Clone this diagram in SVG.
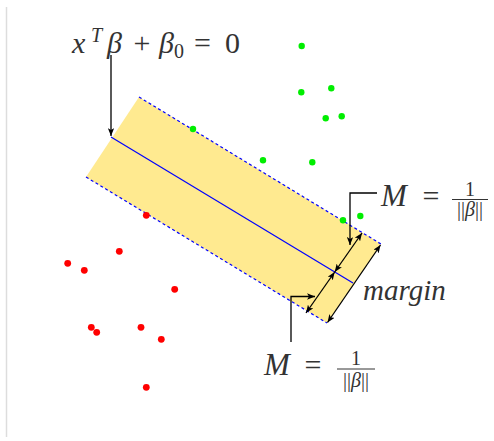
<svg xmlns="http://www.w3.org/2000/svg" width="494" height="441" viewBox="0 0 494 441">
<style>
.t{font-family:"Liberation Serif","DejaVu Serif",serif;fill:#333;font-size:30px}
.i{font-style:italic}
.s{font-size:20px}
.dash{stroke:#0000ff;stroke-width:1.2;stroke-dasharray:3 2.6;fill:none}
.ln{stroke:#000;stroke-width:1.3;fill:none}
.g{fill:#00ee00}
.r{fill:#ff0000}
</style>
<defs>
<marker id="ah" viewBox="0 0 10 8" refX="10" refY="4" markerWidth="8" markerHeight="6.4" markerUnits="userSpaceOnUse" orient="auto-start-reverse">
<path d="M0,0 L10,4 L0,8 L2.5,4 Z" fill="#000"/>
</marker>
</defs>
<line x1="6.5" y1="7" x2="6.5" y2="437" stroke="#dddddd" stroke-width="1.5"/>
<g id="band">
<polygon points="139,97 381,244 327,323 86,177" fill="#ffea90"/>
<line class="dash" x1="139" y1="97" x2="381" y2="244"/>
<line class="dash" x1="86" y1="177" x2="327" y2="323"/>
<line x1="111" y1="137" x2="353" y2="283" stroke="#0000ff" stroke-width="1.2"/>
</g>
<g id="points">
<circle class="g" cx="301.7" cy="46" r="3.2"/>
<circle class="g" cx="301.3" cy="92.3" r="3.2"/>
<circle class="g" cx="331.3" cy="88.3" r="3.2"/>
<circle class="g" cx="325.7" cy="118.3" r="3.2"/>
<circle class="g" cx="341.7" cy="116.3" r="3.2"/>
<circle class="g" cx="193" cy="129" r="3.2"/>
<circle class="g" cx="263" cy="160.3" r="3.2"/>
<circle class="g" cx="312.3" cy="162.3" r="3.2"/>
<circle class="g" cx="343" cy="220.3" r="3.2"/>
<circle class="g" cx="360.3" cy="216" r="3.2"/>
<circle class="r" cx="146.3" cy="215.3" r="3.4"/>
<circle class="r" cx="119.3" cy="251.3" r="3.4"/>
<circle class="r" cx="67.7" cy="263.3" r="3.4"/>
<circle class="r" cx="84.3" cy="270.3" r="3.4"/>
<circle class="r" cx="174.7" cy="289.3" r="3.4"/>
<circle class="r" cx="91.3" cy="327.3" r="3.4"/>
<circle class="r" cx="96.7" cy="332.3" r="3.4"/>
<circle class="r" cx="141" cy="327.3" r="3.4"/>
<circle class="r" cx="161.3" cy="339.3" r="3.4"/>
<circle class="r" cx="146.3" cy="387.3" r="3.4"/>
</g>
<g id="connectors">
<line class="ln" x1="111" y1="55" x2="111" y2="136" marker-end="url(#ah)"/>
<polyline class="ln" points="377,193 350,193 350,245" marker-end="url(#ah)"/>
<polyline class="ln" points="291,342 291,296.5 315,296.5" marker-end="url(#ah)"/>
<line class="ln" x1="334.7" y1="272" x2="362" y2="233" marker-start="url(#ah)" marker-end="url(#ah)"/>
<line class="ln" x1="334.7" y1="272" x2="306" y2="313" marker-start="url(#ah)" marker-end="url(#ah)"/>
<line class="ln" x1="380.5" y1="245" x2="327.5" y2="322.5" marker-start="url(#ah)" marker-end="url(#ah)"/>
</g>
<g id="label-hyperplane">
<text class="t i" x="72" y="53">x</text>
<text class="t i s" x="91" y="42">T</text>
<text class="t i" x="107" y="53">β</text>
<text class="t" x="142" y="53" text-anchor="middle">+</text>
<text class="t i" x="159" y="53">β</text>
<text class="t s" x="174" y="58">0</text>
<text class="t" x="202.5" y="53" text-anchor="middle">=</text>
<text class="t" x="232.5" y="53" text-anchor="middle">0</text>
</g>
<g id="label-M-top">
<text class="t i" x="381" y="206" style="font-size:31px">M</text>
<text class="t" x="431" y="206" text-anchor="middle">=</text>
<text class="t s" x="470" y="196" text-anchor="middle">1</text>
<line x1="452" y1="199.5" x2="488" y2="199.5" stroke="#333" stroke-width="1"/>
<text class="t s" x="470" y="216" text-anchor="middle">||<tspan class="i">β</tspan>||</text>
</g>
<g id="label-M-bottom">
<text class="t i" x="264" y="375" style="font-size:31px">M</text>
<text class="t" x="313" y="375" text-anchor="middle">=</text>
<text class="t s" x="356" y="365" text-anchor="middle">1</text>
<line x1="337" y1="369" x2="375" y2="369" stroke="#333" stroke-width="1"/>
<text class="t s" x="356" y="387" text-anchor="middle">||<tspan class="i">β</tspan>||</text>
</g>
<g id="label-margin">
<text class="t i" x="363" y="300" style="font-size:29px">margin</text>
</g>
</svg>
